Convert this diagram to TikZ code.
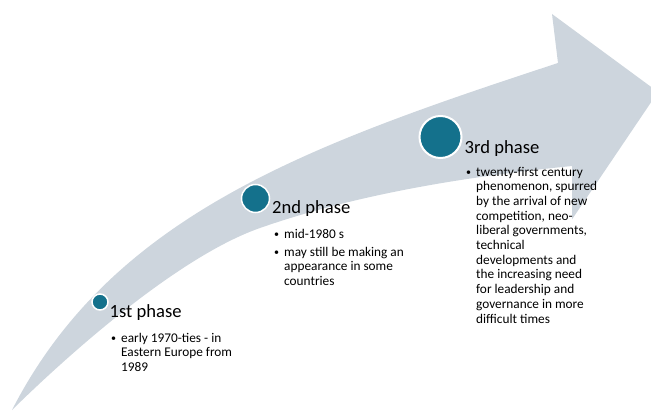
\documentclass[tikz,border=0pt]{standalone}
\usepackage{fontspec}
\setmainfont{Carlito}
\definecolor{arrowgray}{RGB}{205,213,221}
\definecolor{tealdot}{RGB}{20,113,140}
\begin{document}
\begin{tikzpicture}[x=1pt,y=-1pt,
  headtext/.style={font=\fontsize{18.6}{21}\selectfont, anchor=base west, inner sep=0pt},
  bodytext/.style={font=\fontsize{13.3}{14.65}\selectfont, anchor=base west, inner sep=0pt},
  bulletmark/.style={font=\fontsize{10}{12}\selectfont, anchor=base west, inner sep=0pt},
  phasedot/.style={circle, fill=tealdot, draw=white, inner sep=0pt}]
\useasboundingbox (0,0) rectangle (651,412);
% curved arrow
\fill[arrowgray] (12,410) .. controls (112,215) and (308,145) .. (558,63)
  -- (552,14) -- (658,92) -- (572,219.4) -- (572,166)
  .. controls (472,176) and (360,193) .. (260,228)
  .. controls (180,256) and (73,350) .. (12,410) -- cycle;
% dots
\node[phasedot, line width=1.5pt, minimum size=16pt] (c1) at (100,302) {};
\node[phasedot, line width=1.5pt, minimum size=28pt] (c2) at (255.5,198.5) {};
\node[phasedot, line width=2pt, minimum size=42pt] (c3) at (440.5,137) {};
% 1st phase
\node[headtext] (h1) at (109.5,317) {1st phase};
\node[bulletmark] (b1) at (111,341) {•};
\node[bodytext] (t1a) at (121,342) {early 1970-ties - in};
\node[bodytext] (t1b) at (121,356.65) {Eastern Europe from};
\node[bodytext] (t1c) at (121,371.3) {1989};
% 2nd phase
\node[headtext] (h2) at (272,213.3) {2nd phase};
\node[bulletmark] (b2a) at (274,237.3) {•};
\node[bodytext] (t2a) at (284,238.3) {mid-1980 s};
\node[bulletmark] (b2b) at (274,255) {•};
\node[bodytext] (t2b) at (284,256) {may still be making an};
\node[bodytext] (t2c) at (284,270.65) {appearance in some};
\node[bodytext] (t2d) at (284,285.3) {countries};
% 3rd phase
\node[headtext] (h3) at (464.5,153.3) {3rd phase};
\node[bulletmark] (b3) at (466,175) {•};
\foreach \s [count=\i from 0] in {twenty-first century, {phenomenon, spurred}, by the arrival of new, {competition, neo-}, {liberal governments,}, technical, developments and, the increasing need, for leadership and, governance in more, difficult times}
  \node[bodytext] (t3-\i) at (476,176+14.7*\i) {\s};
\end{tikzpicture}
\end{document}
